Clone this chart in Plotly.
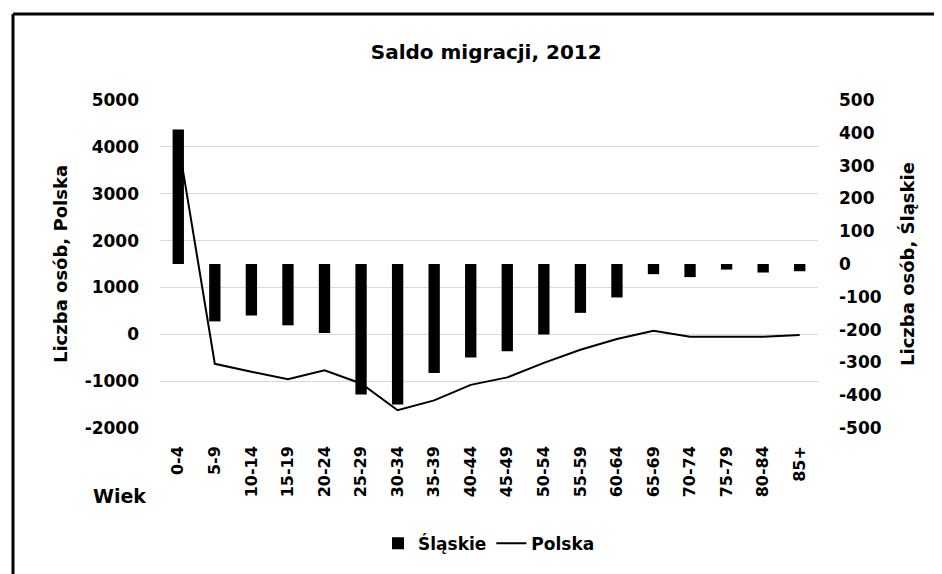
import plotly.graph_objects as go

categories = ["0-4", "5-9", "10-14", "15-19", "20-24", "25-29", "30-34", "35-39", "40-44",
              "45-49", "50-54", "55-59", "60-64", "65-69", "70-74", "75-79", "80-84", "85+"]
slaskie = [410, -175, -157, -187, -210, -398, -428, -332, -285,
           -266, -215, -149, -102, -31, -40, -17, -26, -22]
polska = [4100, -630, -800, -960, -770, -1050, -1620, -1410, -1080,
          -920, -610, -330, -100, 75, -50, -50, -55, -15]

left_ticks = [-2000, -1000, 0, 1000, 2000, 3000, 4000, 5000]
left_tick_text = ["-2000", "-1000", "0", "1000", "2000", "3000", "4000", "5000"]
right_ticks = [-500, -400, -300, -200, -100, 0, 100, 200, 300, 400, 500]
right_tick_text = ["-500", "-400", "-300", "-200", "-100", "0", "100", "200", "300", "400", "500"]

FONT = "DejaVu Sans"
fig = go.Figure()
fig.add_trace(go.Bar(x=categories, y=slaskie, name="Śląskie", yaxis="y2",
                     marker=dict(color="black", line=dict(width=0))))
fig.add_trace(go.Scatter(x=categories, y=polska, name="Polska", mode="lines",
                         line=dict(color="black", width=2)))

fig.update_layout(
    width=934, height=566,
    margin=dict(l=152, r=124, t=92, b=140),
    paper_bgcolor="white", plot_bgcolor="white",
    font=dict(family=FONT, color="black", size=16, weight="bold"),
    title=dict(text="Saldo migracji, 2012", x=0.512, xanchor="center", y=0.922, yanchor="middle",
               font=dict(family=FONT, size=20, weight="bold", color="black")),
    bargap=0.69,
    showlegend=True,
    legend=dict(orientation="h", x=0.5, xanchor="center", y=-0.353, yanchor="middle",
                font=dict(family=FONT, size=17, weight="bold"), traceorder="normal"),
    xaxis=dict(type="category", tickangle=-90, showgrid=False, showline=False,
               tickfont=dict(family=FONT, size=16, weight="bold"), ticklabelstandoff=14),
    yaxis=dict(range=[-2000, 5000], tickvals=left_ticks, ticktext=left_tick_text,
               showgrid=True, gridcolor="#d9d9d9", gridwidth=1,
               zeroline=False, showline=False, ticklabelstandoff=20,
               tickfont=dict(family=FONT, size=17, weight="bold"),
               title=dict(text="Liczba osób, Polska", standoff=12,
                          font=dict(family=FONT, size=18, weight="bold"))),
    yaxis2=dict(range=[-500, 500], tickvals=right_ticks, ticktext=right_tick_text,
                overlaying="y", side="right", showgrid=False,
                zeroline=False, showline=False, ticklabelstandoff=20,
                tickfont=dict(family=FONT, size=17, weight="bold"),
                title=dict(text="Liczba osób, Śląskie", standoff=20,
                           font=dict(family=FONT, size=18, weight="bold"))),
    annotations=[dict(text="Wiek", xref="paper", yref="paper", x=-0.062, y=-0.208,
                      showarrow=False, xanchor="center", yanchor="middle",
                      font=dict(family=FONT, size=19, weight="bold", color="black"))],
    shapes=[
        dict(type="line", xref="paper", yref="paper", x0=-0.2234, x1=1.25, y0=1.262, y1=1.262,
             line=dict(color="black", width=3)),
        dict(type="line", xref="paper", yref="paper", x0=-0.2234, x1=-0.2234, y0=1.262, y1=-0.45,
             line=dict(color="black", width=3)),
    ],
)
fig.write_html("out.html")
